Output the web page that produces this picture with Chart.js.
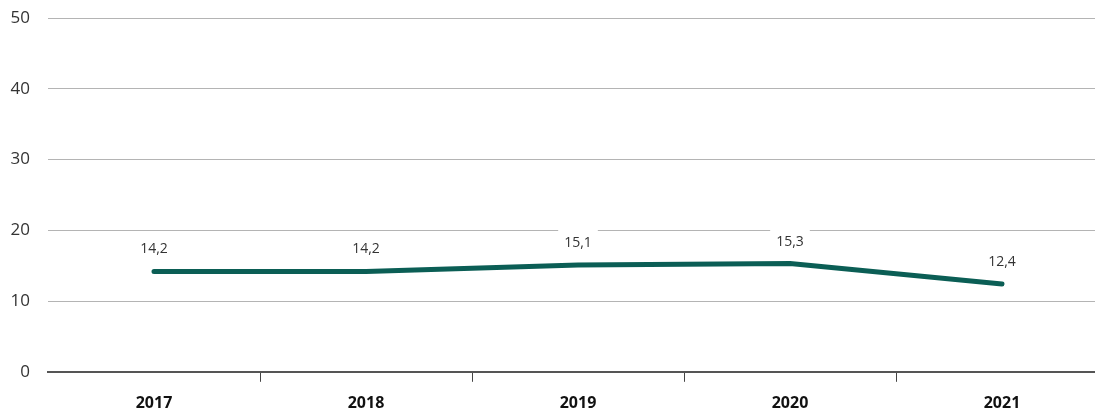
<!DOCTYPE html>
<html>
<head>
<meta charset="utf-8">
<script src="https://cdn.jsdelivr.net/npm/chart.js@4/dist/chart.umd.min.js"></script>
<style>
  html, body { margin: 0; padding: 0; background: #fff; overflow: hidden; }
  #wrap { position: relative; width: 1108px; height: 435px; margin-top: -10px; }
</style>
</head>
<body>
<div id="wrap"><canvas id="chart"></canvas></div>
<script>
// Years and yearly values (percent)
const years = ['2017', '2018', '2019', '2020', '2021'];
const values = [14.2, 14.2, 15.1, 15.3, 12.4];
const yTicks = [0, 10, 20, 30, 40, 50];

const FONT = '"Open Sans", sans-serif';
const fmt = v => v.toFixed(1).replace('.', ',');

// Value labels with a white backing box above each point
const valueLabels = {
  id: 'valueLabels',
  afterDatasetsDraw(chart) {
    const ctx = chart.ctx;
    const meta = chart.getDatasetMeta(0);
    ctx.save();
    ctx.font = '14px ' + FONT;
    ctx.textAlign = 'center';
    ctx.textBaseline = 'middle';
    meta.data.forEach((pt, i) => {
      const txt = fmt(values[i]);
      const w = ctx.measureText(txt).width + 12;
      const h = 30;
      const cy = pt.y - 22;
      ctx.fillStyle = '#ffffff';
      ctx.fillRect(pt.x - w / 2, cy - h / 2, w, h);
      ctx.fillStyle = '#333333';
      ctx.fillText(txt, pt.x, cy);
    });
    ctx.restore();
  }
};

new Chart(document.getElementById('chart'), {
  type: 'line',
  data: {
    labels: years,
    datasets: [{
      data: values,
      borderColor: '#0b5e55',
      borderWidth: 5,
      borderCapStyle: 'round',
      borderJoinStyle: 'round',
      pointRadius: 0,
      tension: 0,
      fill: false
    }]
  },
  options: {
    responsive: true,
    maintainAspectRatio: false,
    animation: false,
    layout: { padding: { top: 0, right: 0, bottom: 0, left: 0 } },
    plugins: { legend: { display: false }, tooltip: { enabled: false } },
    scales: {
      x: {
        type: 'category',
        offset: true,
        grid: {
          offset: true,
          drawOnChartArea: false,
          drawTicks: true,
          tickLength: 10,
          color: ctx => (ctx.index === 0 ? 'rgba(0,0,0,0)' : '#444'),
          lineWidth: 1
        },
        border: { display: true, color: '#555', width: 2 },
        ticks: {
          color: '#111',
          font: { family: FONT, size: 16, weight: 'bold' },
          padding: 12,
          maxRotation: 0
        }
      },
      y: {
        min: 0,
        max: 50,
        afterBuildTicks: axis => { axis.ticks = yTicks.map(v => ({ value: v })); },
        afterFit: axis => { axis.width = 48; },
        grid: {
          color: '#b4b4b4',
          lineWidth: 1,
          drawTicks: false
        },
        border: { display: false },
        ticks: {
          color: '#333',
          font: { family: FONT, size: 17 },
          padding: 18
        }
      }
    }
  },
  plugins: [valueLabels]
});
</script>
</body>
</html>
